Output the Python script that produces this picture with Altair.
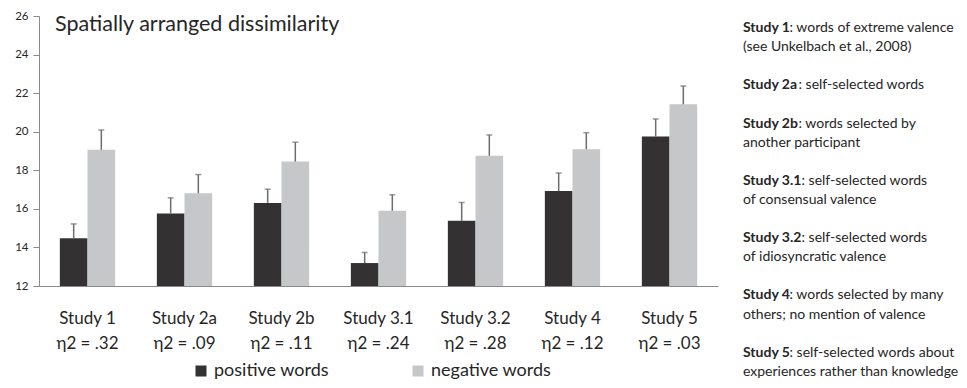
import altair as alt
import pandas as pd

# ---- data ----
studies = ["Study 1", "Study 2a", "Study 2b", "Study 3.1", "Study 3.2", "Study 4", "Study 5"]
eta_labels = ["η2 = .32", "η2 = .09", "η2 = .11", "η2 = .24", "η2 = .28", "η2 = .12", "η2 = .03"]
series = ["positive words", "negative words"]
pos_mean = [14.47, 15.76, 16.31, 13.19, 15.38, 16.92, 19.75]
pos_upper = [15.22, 16.57, 17.02, 13.74, 16.33, 17.86, 20.66]
neg_mean = [19.06, 16.81, 18.45, 15.90, 18.75, 19.09, 21.42]
neg_upper = [20.09, 17.78, 19.45, 16.73, 19.83, 19.95, 22.37]
y_ticks = [12, 14, 16, 18, 20, 22, 24, 26]
title_text = "Spatially arranged dissimilarity"

note_bold = ["Study 1", "Study 2a", "Study 2b", "Study 3.1", "Study 3.2", "Study 4", "Study 5"]
note_rest = [": words of extreme valence", ": self-selected words", ": words selected by",
             ": self-selected words", ": self-selected words", ": words selected by many",
             ": self-selected words about"]
note_line2 = ["(see Unkelbach et al., 2008)", "", "another participant", "of consensual valence",
              "of idiosyncratic valence", "others; no mention of valence",
              "experiences rather than knowledge"]

# ---- styling ----
FONT = "Lato"
TEXT = "#262626"
colors = ["#333132", "#c6c7c9"]
err_color = "#6d6d6d"
axis_color = "#8a8a8a"
W, H = 679, 270
note_size = 14
line_h = 19.1
bold_w = [46.5, 55.5, 55.5, 58.5, 58.5, 46.5, 46.5]  # approx width of bold prefixes (px)

rows = []
for i, s in enumerate(studies):
    rows.append(dict(study=s, type=series[0], value=pos_mean[i], upper=pos_upper[i]))
    rows.append(dict(study=s, type=series[1], value=neg_mean[i], upper=neg_upper[i]))
df = pd.DataFrame(rows)

lab_df = pd.DataFrame({"study": studies, "eta": eta_labels})

# annotation layout (pixel offsets relative to plot origin)
yb, notes = 16.0, []
for i in range(len(note_bold)):
    notes.append(dict(bold=note_bold[i], rest=note_rest[i], line2=note_line2[i],
                      xb=704, xr=704 + bold_w[i], y1=yb, y2=yb + line_h))
    nlines = 2 if note_line2[i] else 1
    yb += (nlines + 1) * line_h
notes_df = pd.DataFrame(notes)

x_enc = alt.X("study:N", sort=studies,
              scale=alt.Scale(paddingInner=0.43, paddingOuter=0.215),
              axis=alt.Axis(title=None, labels=False, ticks=False, domainColor=axis_color,
                            domainWidth=1))
xo_enc = alt.XOffset("type:N", sort=series, scale=alt.Scale(paddingInner=0, paddingOuter=0))
y_scale = alt.Scale(domain=[12, 26], nice=False, zero=False)
y_axis = alt.Axis(title=None, values=y_ticks, tickCount=8, grid=False, tickSize=6,
                  tickColor=axis_color, domainColor=axis_color, labelFont=FONT,
                  labelFontSize=11.5, labelColor=TEXT, labelPadding=5, labelOverlap=False)

bars = alt.Chart(df).mark_bar(clip=True).encode(
    x=x_enc,
    xOffset=xo_enc,
    y=alt.Y("value:Q", scale=y_scale, axis=y_axis),
    y2=alt.datum(12),
    color=alt.Color("type:N", sort=series,
                    scale=alt.Scale(domain=series, range=colors),
                    legend=alt.Legend(title=None, orient="none", legendX=153, legendY=346,
                                      direction="horizontal", symbolType="square",
                                      symbolSize=121, symbolStrokeWidth=0,
                                      labelFont=FONT, labelFontSize=18, labelColor=TEXT,
                                      columnPadding=80, labelOffset=4)),
)

err = alt.Chart(df).mark_rule(color=err_color, strokeWidth=1.5).encode(
    x=alt.X("study:N", sort=studies), xOffset=alt.XOffset("type:N", sort=series),
    y=alt.Y("value:Q", axis=y_axis), y2="upper:Q")

caps = alt.Chart(df).mark_tick(color=err_color, thickness=1.5, size=6, orient="horizontal").encode(
    x=alt.X("study:N", sort=studies), xOffset=alt.XOffset("type:N", sort=series),
    y=alt.Y("upper:Q", axis=y_axis))

lab1 = alt.Chart(lab_df).mark_text(font=FONT, fontSize=17, color=TEXT, baseline="alphabetic").encode(
    x=alt.X("study:N", sort=studies), y=alt.value(308), text="study:N")
lab2 = alt.Chart(lab_df).mark_text(font=FONT, fontSize=17, color=TEXT, baseline="alphabetic").encode(
    x=alt.X("study:N", sort=studies), y=alt.value(333), text="eta:N")

title = alt.Chart(pd.DataFrame({"t": [title_text]})).mark_text(
    font=FONT, fontSize=21.5, color=TEXT, align="left", baseline="alphabetic").encode(
    x=alt.value(16), y=alt.value(15), text="t:N")

nb = alt.Chart(notes_df).mark_text(font=FONT, fontSize=note_size, fontWeight="bold", color=TEXT,
                                   align="left", baseline="alphabetic").encode(
    x=alt.X("xb:Q", scale=None, axis=None), y=alt.Y("y1:Q", scale=None, axis=None), text="bold:N")
nr = alt.Chart(notes_df).mark_text(font=FONT, fontSize=note_size, color=TEXT,
                                   align="left", baseline="alphabetic").encode(
    x=alt.X("xr:Q", scale=None, axis=None), y=alt.Y("y1:Q", scale=None, axis=None), text="rest:N")
n2 = alt.Chart(notes_df).mark_text(font=FONT, fontSize=note_size, color=TEXT,
                                   align="left", baseline="alphabetic").encode(
    x=alt.X("xb:Q", scale=None, axis=None), y=alt.Y("y2:Q", scale=None, axis=None), text="line2:N")

chart = alt.layer(bars, err, caps, lab1, lab2, title, nb, nr, n2).properties(
    width=W, height=H,
    background="white",
    autosize=alt.AutoSizeParams(type="none"),
    padding={"left": 31, "top": 8, "right": 240, "bottom": 93},
).configure_view(stroke=None)

chart.save("out.html", embed_options={"renderer": "svg", "actions": False})
